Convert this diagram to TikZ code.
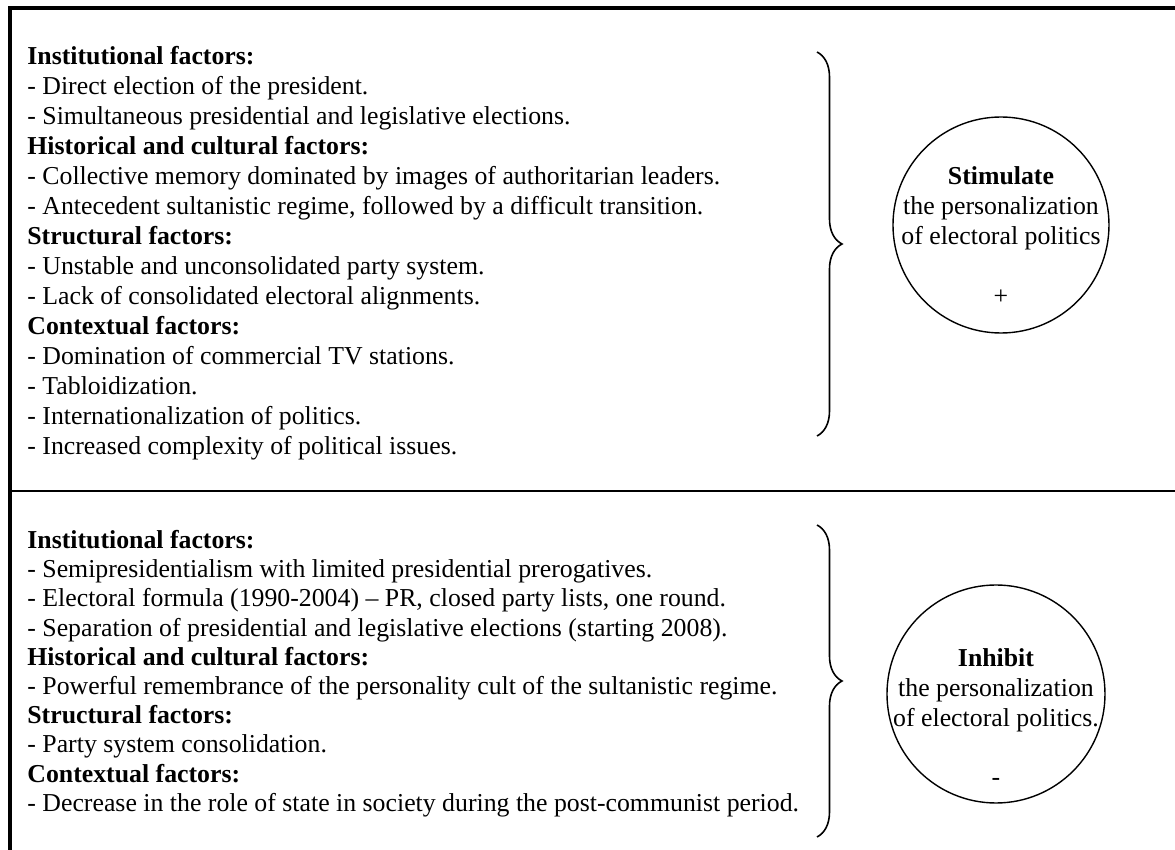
\documentclass[tikz,border=0pt]{standalone}
\usepackage{fontspec}
\setmainfont{Liberation Serif}
\usetikzlibrary{positioning,decorations.pathreplacing}

\begin{document}
\begin{tikzpicture}[x=0.5pt, y=-0.5pt, every node/.style={font=\fontsize{12.9}{15}\selectfont}, factors/.style={align=left,anchor=north west,inner sep=0pt}, effect/.style={draw,circle,line width=0.7pt,minimum size=108pt,inner sep=0pt}, effecttext/.style={align=center,anchor=north,inner sep=0pt}, bracket/.style={decorate,decoration={brace,amplitude=12.5pt},line width=0.8pt}]
\useasboundingbox (0,0) rectangle (1175,850);
% frame of the table
\draw[line width=2pt] (10,850) -- (10,8) -- (1175,8);
\draw[line width=1pt] (10,491) -- (1175,491);
% factors that stimulate
\node[factors] (stimlist) at (27,46) {\textbf{Institutional factors:}\\
- Direct election of the president.\\
- Simultaneous presidential and legislative elections.\\
\textbf{Historical and cultural factors:}\\
- Collective memory dominated by images of authoritarian leaders.\\
- Antecedent sultanistic regime, followed by a difficult transition.\\
\textbf{Structural factors:}\\
- Unstable and unconsolidated party system.\\
- Lack of consolidated electoral alignments.\\
\textbf{Contextual factors:}\\
- Domination of commercial TV stations.\\
- Tabloidization.\\
- Internationalization of politics.\\
- Increased complexity of political issues.};
\coordinate (stimtop) at (817,52);
\coordinate (stimbot) at (817,436);
\draw[bracket] (stimtop) -- (stimbot);
\node[effect] (stim) at (1001,225) {};
\node[effecttext,below=25pt of stim.north] (stimtext) {\textbf{Stimulate}\\the personalization\\of electoral politics\\[15pt]+};
% factors that inhibit
\node[factors,font=\fontsize{12.9}{14.6}\selectfont] (inhlist) at (27,530) {\textbf{Institutional factors:}\\
- Semipresidentialism with limited presidential prerogatives.\\
- Electoral formula (1990-2004) -- PR, closed party lists, one round.\\
- Separation of presidential and legislative elections (starting 2008).\\
\textbf{Historical and cultural factors:}\\
- Powerful remembrance of the personality cult of the sultanistic regime.\\
\textbf{Structural factors:}\\
- Party system consolidation.\\
\textbf{Contextual factors:}\\
- Decrease in the role of state in society during the post-communist period.};
\coordinate (inhtop) at (817,525);
\coordinate (inhbot) at (817,837);
\draw[bracket] (inhtop) -- (inhbot);
\node[effect,minimum size=109pt] (inh) at (996,694) {};
\node[effecttext,below=31.7pt of inh.north] (inhtext) {\textbf{Inhibit}\\the personalization\\of electoral politics.\\[15pt]-};
\end{tikzpicture}
\end{document}
